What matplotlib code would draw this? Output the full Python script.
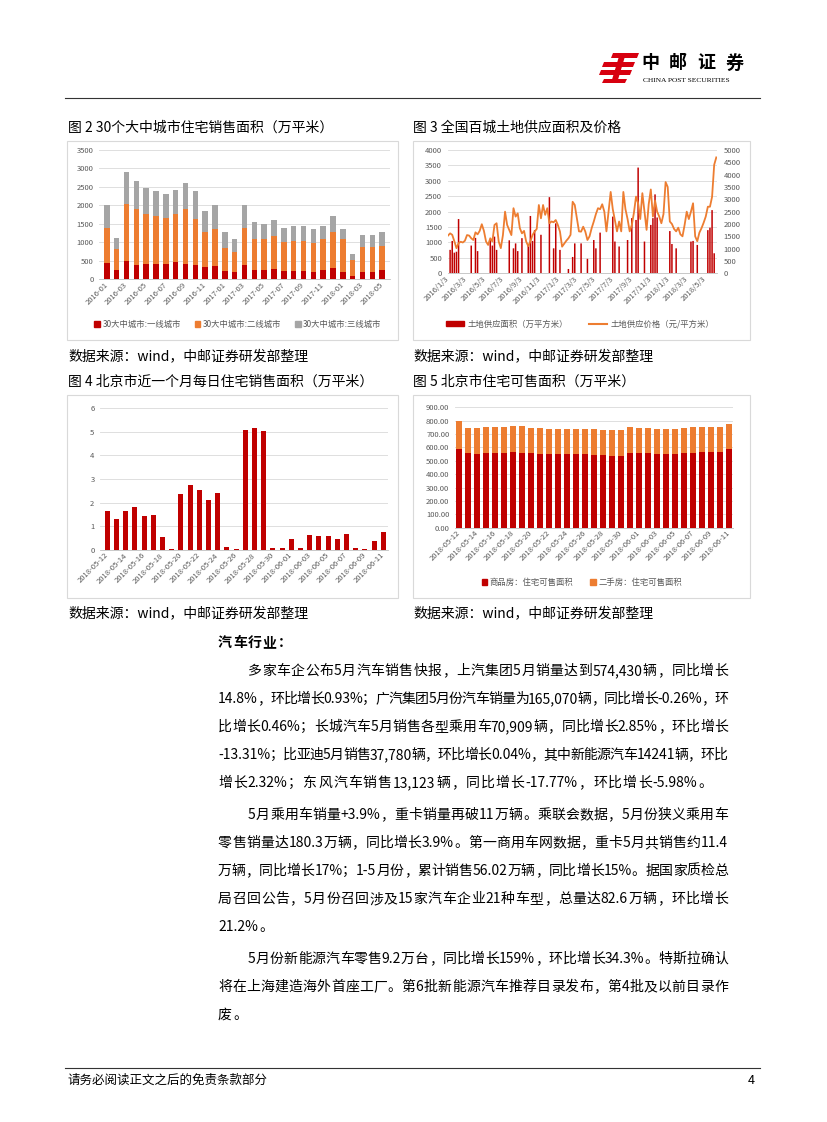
import re
import numpy as np
import pandas as pd
import matplotlib
matplotlib.use('Agg')
import matplotlib.pyplot as plt
from matplotlib.patches import Rectangle, Polygon, Patch
from matplotlib.lines import Line2D

plt.rcParams['font.family'] = ['Noto Sans CJK SC', 'DejaVu Sans']
plt.rcParams['axes.unicode_minus'] = False

# ---------------- 数据 ----------------
# 图2 30个大中城市住宅销售面积（万平米）
months = list(pd.period_range('2016-01', '2018-05', freq='M').strftime('%Y-%m'))
tier1 = [450, 250, 505, 390, 425, 415, 415, 470, 415, 390, 345, 360, 225, 200, 390,
         255, 255, 280, 225, 225, 225, 200, 255, 315, 200, 90, 200, 200, 255]
tier2 = [930, 560, 1525, 1505, 1345, 1285, 1235, 1290, 1490, 1235, 945, 995, 635, 540, 990,
         830, 830, 895, 795, 815, 820, 775, 830, 975, 885, 435, 685, 685, 645]
tier3 = [640, 320, 870, 755, 690, 700, 670, 670, 715, 775, 570, 665, 430, 340, 620,
         475, 415, 435, 380, 410, 405, 395, 365, 430, 285, 165, 325, 325, 390]

# 图3 全国百城土地供应面积及价格（周度）
weeks = pd.date_range('2016-01-03', periods=128, freq='7D')
land_area = [0, 760, 1050, 670, 700, 1760, 0, 0, 0, 0,
             0, 900, 0, 1150, 720, 0, 0, 0, 0, 0,
             1080, 900, 1190, 760, 0, 0, 0, 0, 0, 1070,
             0, 810, 970, 720, 0, 1140, 0, 0, 920, 1860,
             1050, 1400, 0, 0, 1250, 0, 0, 0, 2470, 0,
             810, 1620, 0, 760, 0, 0, 0, 140, 0, 530,
             970, 0, 0, 970, 0, 0, 470, 0, 0, 1080,
             810, 0, 1320, 0, 0, 0, 0, 0, 1840, 1030,
             0, 870, 0, 0, 0, 1080, 0, 1790, 0, 1730,
             3430, 0, 0, 1030, 0, 0, 1570, 1790, 2560, 1810,
             0, 0, 0, 0, 0, 1370, 950, 0, 810, 0,
             0, 0, 0, 0, 0, 1030, 1050, 0, 920, 0,
             0, 0, 0, 1400, 1480, 2050, 650, 0]
land_price = [1530, 1620, 1560, 1300, 1020, 1220, 1280, 1250, 1320, 1550,
              1530, 1420, 1350, 1660, 1580, 1720, 1990, 1720, 1290, 1150,
              1420, 1290, 1960, 2030, 1290, 1020, 1550, 2500, 1960, 1760,
              1550, 2640, 2300, 2430, 1830, 1620, 1720, 1290, 1100, 1300,
              1550, 1690, 1800, 2770, 2230, 2770, 2370, 2640, 2030, 2100,
              2070, 2160, 1960, 1690, 1080, 1200, 1320, 1420, 1560, 2900,
              2770, 2230, 1700, 1690, 1890, 1690, 1350, 1500, 1830, 2100,
              2400, 2640, 2600, 2800, 2500, 1700, 2500, 3300, 2600, 2150,
              1700, 2100, 1700, 3300, 2600, 2200, 1700, 1960, 2450, 3110,
              2840, 2200, 3250, 2500, 1760, 2800, 3400, 2300, 2950, 2500,
              2300, 2030, 2400, 3700, 3500, 2100, 2000, 1800, 1700, 1850,
              1580, 1500, 1960, 2500, 2200, 2500, 2840, 1500, 1300, 1650,
              1830, 2050, 2300, 2700, 2700, 3100, 4400, 4700]
tick_dates = pd.date_range('2016-01-03', periods=15, freq=pd.DateOffset(months=2))

# 图4 北京市近一个月每日住宅销售面积（万平米）
days = list(pd.date_range('2018-05-12', '2018-06-11').strftime('%Y-%m-%d'))
bj_daily = [1.65, 1.32, 1.65, 1.82, 1.44, 1.48, 0.55, 0.04, 2.37, 2.75, 2.54, 2.11, 2.41, 0.13, 0.04,
            5.07, 5.15, 5.03, 0.08, 0.08, 0.46, 0.08, 0.63, 0.59, 0.59, 0.46, 0.68, 0.08, 0.04, 0.38, 0.76]

# 图5 北京市住宅可售面积（万平米）
new_home = [590, 555, 548, 555, 560, 560, 568, 560, 555, 548, 548, 548, 548, 548, 548, 540,
            540, 533, 533, 560, 560, 560, 548, 548, 548, 555, 560, 568, 568, 568, 590]
resale = [205, 190, 197, 197, 192, 192, 190, 198, 190, 197, 190, 190, 190, 190, 190, 198,
          192, 199, 199, 192, 185, 185, 190, 190, 190, 190, 192, 184, 184, 184, 185]

# ---------------- 画布 ----------------
W, H = 827, 1122
RED = '#C00000'
ORANGE = '#ED7D31'
GRAY = '#A5A5A5'
TXT = '#595959'
GRID = '#D9D9D9'

fig = plt.figure(figsize=(W / 100, H / 100), dpi=100)
rend = fig.canvas.get_renderer()


def fx(x):
    return x / W


def fy(y):
    return 1 - y / H


def axes_px(x0, y0, x1, y1):
    return fig.add_axes([fx(x0), fy(y1), (x1 - x0) / W, (y1 - y0) / H])


def style(ax):
    for s in ['top', 'right', 'left']:
        ax.spines[s].set_visible(False)
    ax.spines['bottom'].set_color('#BFBFBF')
    ax.spines['bottom'].set_linewidth(0.6)
    ax.tick_params(axis='both', length=0, labelsize=5.5, labelcolor=TXT)
    ax.tick_params(axis='y', pad=4)
    ax.tick_params(axis='x', pad=3)
    ax.yaxis.grid(True, color=GRID, lw=0.6)
    ax.set_axisbelow(True)


def box(x0, y0, x1, y1):
    fig.add_artist(Rectangle((fx(x0), fy(y1)), (x1 - x0) / W, (y1 - y0) / H,
                             transform=fig.transFigure, fill=False, ec='#D9D9D9', lw=0.8))


def rot_labels(ax):
    for t in ax.get_xticklabels():
        t.set_rotation(45)
        t.set_ha('right')
        t.set_va('center')
        t.set_rotation_mode('anchor')


# 图2
box(67, 141, 398, 340)
ax1 = axes_px(99, 150, 390, 279.3)
x = np.arange(len(months))
ax1.bar(x, tier1, 0.55, color=RED)
ax1.bar(x, tier2, 0.55, bottom=tier1, color=ORANGE)
ax1.bar(x, tier3, 0.55, bottom=np.add(tier1, tier2), color=GRAY)
ax1.set_xlim(-0.8, len(months) - 0.2)
ax1.set_ylim(0, 3500)
ax1.set_yticks(range(0, 3501, 500))
ax1.set_xticks(x[::2])
ax1.set_xticklabels(months[::2])
style(ax1)
rot_labels(ax1)
fig.legend([Patch(color=RED), Patch(color=ORANGE), Patch(color=GRAY)],
           ['30大中城市:一线城市', '30大中城市:二线城市', '30大中城市:三线城市'],
           loc='center', bbox_to_anchor=(fx(238), fy(324)), ncol=3, frameon=False,
           fontsize=6, labelcolor=TXT, handlelength=0.7, handleheight=0.7,
           handletextpad=0.3, columnspacing=1.6)

# 图3
box(413, 141, 750, 340)
ax2 = axes_px(447.7, 150, 716.6, 273.3)
ax2.bar(weeks, land_area, width=5, color=RED, snap=False, lw=0)
ax2.set_ylim(0, 4000)
ax2.set_yticks(range(0, 4001, 500))
ax2.set_xlim(weeks[0] - pd.Timedelta(days=1), weeks[-1] + pd.Timedelta(days=1))
ax2.set_xticks(tick_dates)
ax2.set_xticklabels([f'{d.year}/{d.month}/{d.day}' for d in tick_dates])
style(ax2)
rot_labels(ax2)
axr = ax2.twinx()
axr.plot(weeks, land_price, color=ORANGE, lw=1.3)
axr.set_ylim(0, 5000)
axr.set_yticks(range(0, 5001, 500))
for s in ['top', 'right', 'left', 'bottom']:
    axr.spines[s].set_visible(False)
axr.tick_params(axis='y', length=0, labelsize=5.5, labelcolor=TXT, pad=5)
fig.legend([Patch(color=RED), Line2D([], [], color=ORANGE, lw=1.5)],
           ['土地供应面积（万平方米）', '土地供应价格（元/平方米）'],
           loc='center', bbox_to_anchor=(fx(580), fy(324)), ncol=2, frameon=False,
           fontsize=6, labelcolor=TXT, handlelength=2.2, handleheight=0.6,
           handletextpad=0.4, columnspacing=2.5)

# 图4
box(67, 395, 398, 598)
ax3 = axes_px(100, 408, 388.3, 550)
d = np.arange(len(days))
ax3.bar(d, bj_daily, 0.55, color=RED)
ax3.set_xlim(-0.8, len(days) - 0.45)
ax3.set_ylim(0, 6)
ax3.set_yticks(range(0, 7))
ax3.set_xticks(d[::2])
ax3.set_xticklabels(days[::2])
style(ax3)
rot_labels(ax3)

# 图5
box(413, 395, 750, 598)
ax4 = axes_px(455, 407.3, 733.3, 527.7)
ax4.bar(d, new_home, 0.65, color=RED)
ax4.bar(d, resale, 0.65, bottom=new_home, color=ORANGE)
ax4.set_xlim(-0.45, len(days) - 0.55)
ax4.set_ylim(0, 900)
ax4.set_yticks(range(0, 901, 100))
ax4.set_yticklabels([f'{v:.2f}' for v in range(0, 901, 100)])
ax4.set_xticks(d[::2])
ax4.set_xticklabels(days[::2])
style(ax4)
rot_labels(ax4)
fig.legend([Patch(color=RED), Patch(color=ORANGE)],
           ['商品房：住宅可售面积', '二手房：住宅可售面积'],
           loc='center', bbox_to_anchor=(fx(582), fy(582)), ncol=2, frameon=False,
           fontsize=6, labelcolor=TXT, handlelength=0.7, handleheight=0.7,
           handletextpad=0.3, columnspacing=2.0)

# ---------------- 标题、来源 ----------------
titles = [(68, 128, '图 2 30个大中城市住宅销售面积（万平米）'),
          (413, 128, '图 3 全国百城土地供应面积及价格'),
          (68, 382, '图 4 北京市近一个月每日住宅销售面积（万平米）'),
          (413, 382, '图 5 北京市住宅可售面积（万平米）')]
for tx, ty, s in titles:
    fig.text(fx(tx), fy(ty), s, fontsize=10, va='center', ha='left')
for tx, ty in [(68, 356), (413, 356), (68, 613), (413, 613)]:
    fig.text(fx(tx), fy(ty), '数据来源：wind，中邮证券研发部整理', fontsize=10, va='center', ha='left')

# ---------------- 页眉页脚 ----------------
logo = [[(613, 53), (639, 53), (637, 58), (611, 58)],
        [(604, 62), (635, 62), (633, 67), (602, 67)],
        [(601, 70), (632, 70), (630, 75), (599, 75)],
        [(620, 53), (626, 53), (617, 83), (611, 83)],
        [(604, 79), (627, 79), (625, 83), (602, 83)]]
for poly in logo:
    fig.add_artist(Polygon([(fx(a), fy(b)) for a, b in poly], closed=True,
                           transform=fig.transFigure, color='#D7000F', lw=0))
for cx, ch in zip([650, 678, 706, 734], '中邮证券'):
    fig.text(fx(cx), fy(63), ch, fontsize=13, fontweight='bold', ha='center', va='center')
fig.text(fx(643), fy(81), 'CHINA POST SECURITIES', fontsize=5.4, family='Liberation Serif',
         ha='left', va='center')
fig.add_artist(Line2D([fx(65), fx(760)], [fy(98), fy(98)], transform=fig.transFigure,
                      color='#333333', lw=0.8))
fig.add_artist(Line2D([fx(65), fx(760)], [fy(1068), fy(1068)], transform=fig.transFigure,
                      color='#333333', lw=0.8))
fig.text(fx(68), fy(1080), '请务必阅读正文之后的免责条款部分', fontsize=9, va='center', ha='left')
fig.text(fx(748), fy(1080), '4', fontsize=9, va='center', ha='left')


# ---------------- 正文 ----------------
def put_line(s, x0, x1, y, size, fill=True, **kw):
    toks = re.findall(r'[!-~]+|\S', s)
    ts = [fig.text(0, 0, t, fontsize=size, va='center', ha='left', **kw) for t in toks]
    ws = [t.get_window_extent(rend).width for t in ts]
    gap = (x1 - x0 - sum(ws)) / (len(ts) - 1) if fill and len(ts) > 1 else 1.0
    xx = x0
    for t, w in zip(ts, ws):
        t.set_position((fx(xx), fy(y)))
        xx += w + gap


body = [
    ('多家车企公布5月汽车销售快报，上汽集团5月销量达到574,430辆，同比增长', True, True),
    ('14.8%，环比增长0.93%；广汽集团5月份汽车销量为165,070辆，同比增长-0.26%，环', False, True),
    ('比增长0.46%；长城汽车5月销售各型乘用车70,909辆，同比增长2.85%，环比增长', False, True),
    ('-13.31%；比亚迪5月销售37,780辆，环比增长0.04%，其中新能源汽车14241辆，环比', False, True),
    ('增长2.32%；东风汽车销售13,123辆，同比增长-17.77%，环比增长-5.98%。', False, False),
    ('5 月乘用车销量+3.9%，重卡销量再破 11 万辆。乘联会数据，5 月份狭义乘用车', True, True),
    ('零售销量达 180.3 万辆，同比增长 3.9%。第一商用车网数据，重卡 5 月共销售约 11.4', False, True),
    ('万辆，同比增长 17%；1-5 月份，累计销售 56.02 万辆，同比增长 15%。据国家质检总', False, True),
    ('局召回公告，5 月份召回涉及 15 家汽车企业 21 种车型，总量达 82.6 万辆，环比增长', False, True),
    ('21.2%。', False, False),
    ('5 月份新能源汽车零售 9.2 万台，同比增长 159%，环比增长 34.3%。特斯拉确认', True, True),
    ('将在上海建造海外首座工厂。第 6 批新能源汽车推荐目录发布，第 4 批及以前目录作', False, True),
    ('废。', False, False),
]
put_line('汽车行业：', 218, 300, 643, 10, fill=False, fontweight='bold')
y = 643
for i, (s, indent, fill) in enumerate(body):
    y += 28.0 + (4 if indent and i > 0 else 0)
    put_line(s, 248 if indent else 218, 728, y, 10, fill=fill)

fig.savefig('out.png', dpi=100)
